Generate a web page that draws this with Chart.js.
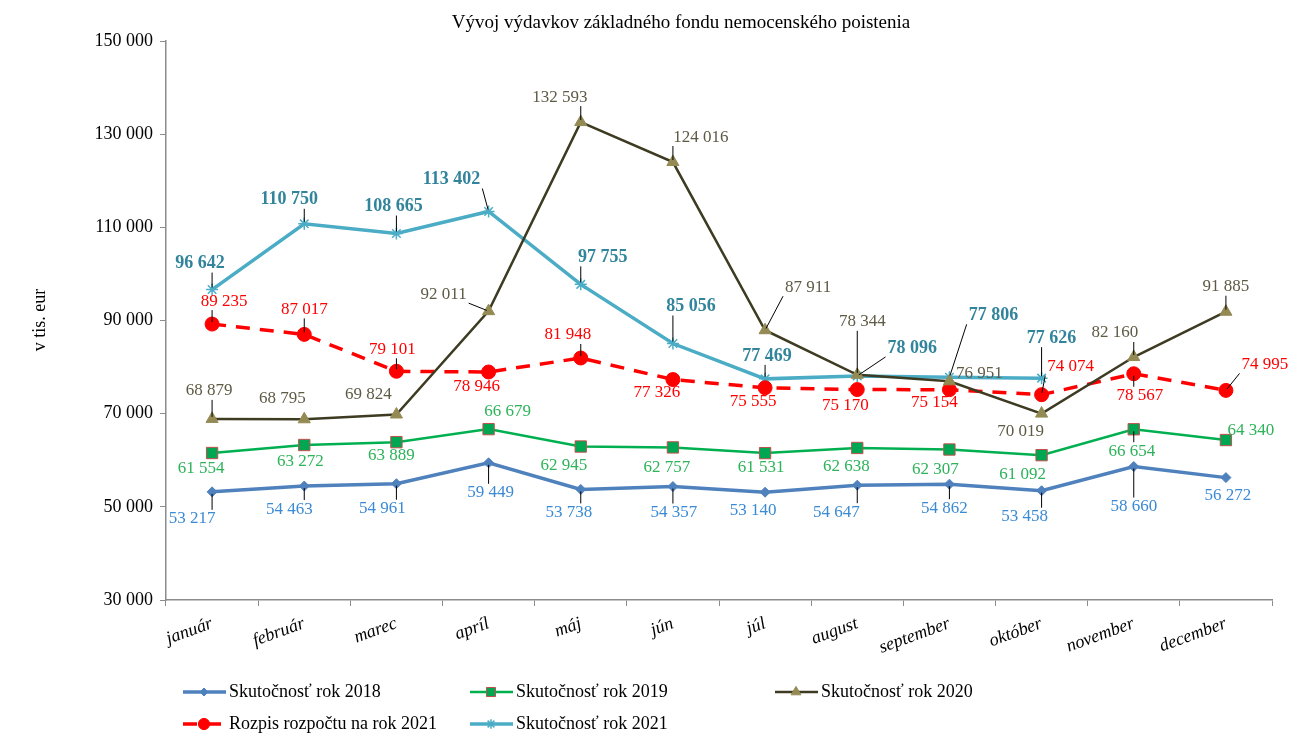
<!DOCTYPE html>
<html>
<head>
<meta charset="utf-8">
<script src="https://cdn.jsdelivr.net/npm/chart.js@4.4.0/dist/chart.umd.min.js"></script>
<style>
  html, body { margin: 0; padding: 0; background: #fff; }
</style>
</head>
<body>
<canvas id="chart" width="1289" height="735"></canvas>
<script>
const months = ['január', 'február', 'marec', 'apríl', 'máj', 'jún', 'júl', 'august', 'september', 'október', 'november', 'december'];
const yTicks = [30000, 50000, 70000, 90000, 110000, 130000, 150000];

const actual2018 = [53217, 54463, 54961, 59449, 53738, 54357, 53140, 54647, 54862, 53458, 58660, 56272];
const actual2019 = [61554, 63272, 63889, 66679, 62945, 62757, 61531, 62638, 62307, 61092, 66654, 64340];
const actual2020 = [68879, 68795, 69824, 92011, 132593, 124016, 87911, 78344, 76951, 70019, 82160, 91885];
const budget2021 = [89235, 87017, 79101, 78946, 81948, 77326, 75555, 75170, 75154, 74074, 78567, 74995];
const actual2021 = [96642, 110750, 108665, 113402, 97755, 85056, 77469, 78096, 77806, 77626, null, null];

// label placement relative to each point (px)
const off2018 = [[-20,27],[-15,23],[-14,25],[2,30],[-12,23],[1,26],[-12,18],[-21,27],[-5,24],[-17,26],[0,40],[2,18]];
const off2019 = [[-11,16],[-4,17],[-5,13],[19,-18],[-17,19],[-6,20],[-4,14],[-11,19],[-14,20],[-19,19],[-2,22],[25,-10]];
const off2020 = [[-3,-28],[-22,-21],[-28,-20],[-45,-17],[-21,-25],[28,-25],[43,-43],[5,-53],[30,-8],[-21,18],[-19,-24],[0,-25]];
const offBudget = [[12,-23],[0,-25],[-4,-22],[-12,15],[-13,-23],[-16,13],[-12,14],[-12,16],[-15,13],[29,-28],[6,22],[39,-26]];
const off2021 = [[-12,-26],[-15,-24],[-3,-27],[-37,-32],[22,-27],[18,-37],[2,-23],[55,-28],[44,-62],[10,-40],[0,0],[0,0]];

const fmt = v => String(v).replace(/\B(?=(\d{3})+(?!\d))/g, ' ');
const SERIF = '"Liberation Serif", "Times New Roman", serif';

const labelStyles = [
  { color: '#3a8ad4', font: '17px ' + SERIF, offsets: off2018 },
  { color: '#2db35a', font: '17px ' + SERIF, offsets: off2019 },
  { color: '#5e5a44', font: '17px ' + SERIF, offsets: off2020 },
  { color: '#ff0000', font: '17px ' + SERIF, offsets: offBudget },
  { color: '#31849b', font: 'bold 18px ' + SERIF, offsets: off2021 }
];

const extras = {
  id: 'extras',
  afterDraw(chart) {
    const ctx = chart.ctx;
    // data labels with leader lines
    chart.data.datasets.forEach((ds, di) => {
      const meta = chart.getDatasetMeta(di);
      const st = labelStyles[di];
      ctx.save();
      ctx.font = st.font;
      ctx.textAlign = 'center';
      ctx.textBaseline = 'middle';
      meta.data.forEach((pt, i) => {
        const v = ds.data[i];
        if (v == null) return;
        const [dx, dy] = st.offsets[i];
        const lx = pt.x + dx, ly = pt.y + dy;
        const text = fmt(v);
        const hw = ctx.measureText(text).width / 2 + 2, hh = 9;
        const cx = Math.max(lx - hw, Math.min(pt.x, lx + hw));
        const cy = Math.max(ly - hh, Math.min(pt.y, ly + hh));
        const d = Math.hypot(pt.x - cx, pt.y - cy);
        if (d > 12) {
          ctx.strokeStyle = '#000';
          ctx.lineWidth = 1;
          ctx.beginPath();
          ctx.moveTo(cx, cy);
          ctx.lineTo(pt.x + (cx - pt.x) * 2 / d, pt.y + (cy - pt.y) * 2 / d);
          ctx.stroke();
        }
        ctx.fillStyle = st.color;
        ctx.fillText(text, lx, ly);
      });
      ctx.restore();
    });

    // title
    ctx.save();
    ctx.fillStyle = '#000';
    ctx.font = '19px ' + SERIF;
    ctx.textAlign = 'center';
    ctx.textBaseline = 'middle';
    ctx.fillText('Vývoj výdavkov základného fondu nemocenského poistenia', 681, 23);

    // y title
    ctx.save();
    ctx.translate(40, 320);
    ctx.rotate(-Math.PI / 2);
    ctx.font = '18px ' + SERIF;
    ctx.fillText('v tis. eur', 0, 0);
    ctx.restore();

    // legend
    const slots = [[183, 692], [470, 692], [775, 692], [183, 724], [470, 724]];
    chart.data.datasets.forEach((ds, di) => {
      const [x, y] = slots[di];
      ctx.save();
      ctx.strokeStyle = ds.borderColor;
      ctx.lineWidth = ds.borderWidth;
      ctx.setLineDash(ds.borderDash || []);
      ctx.beginPath();
      ctx.moveTo(x, y);
      ctx.lineTo(x + 43, y);
      ctx.stroke();
      ctx.setLineDash([]);
      ctx.fillStyle = ds.pointBackgroundColor;
      ctx.strokeStyle = ds.pointBorderColor;
      ctx.lineWidth = ds.pointBorderWidth;
      Chart.helpers.drawPoint(ctx, { pointStyle: ds.pointStyle, radius: ds.pointRadius * 0.8, borderWidth: ds.pointBorderWidth, rotation: 0 }, x + 21, y);
      ctx.fillStyle = '#000';
      ctx.font = '18px ' + SERIF;
      ctx.textAlign = 'left';
      ctx.textBaseline = 'middle';
      ctx.fillText(ds.label, x + 46, y);
      ctx.restore();
    });
    ctx.restore();
  }
};

new Chart(document.getElementById('chart'), {
  type: 'line',
  data: {
    labels: months,
    datasets: [
      {
        label: 'Skutočnosť rok 2018', data: actual2018,
        borderColor: '#4f81bd', borderWidth: 3.5,
        pointStyle: 'rectRot', pointRadius: 5, pointBackgroundColor: '#4f81bd', pointBorderColor: '#4f81bd', pointBorderWidth: 1
      },
      {
        label: 'Skutočnosť rok 2019', data: actual2019,
        borderColor: '#00b050', borderWidth: 2.5,
        pointStyle: 'rect', pointRadius: 8, pointBackgroundColor: '#00a651', pointBorderColor: '#c0504d', pointBorderWidth: 1
      },
      {
        label: 'Skutočnosť rok 2020', data: actual2020,
        borderColor: '#3d3b21', borderWidth: 2.5,
        pointStyle: 'triangle', pointRadius: 7, pointBackgroundColor: '#948a54', pointBorderColor: '#948a54', pointBorderWidth: 1
      },
      {
        label: 'Rozpis rozpočtu na rok 2021', data: budget2021,
        borderColor: '#ff0000', borderWidth: 3.5, borderDash: [14, 10],
        pointStyle: 'circle', pointRadius: 7, pointBackgroundColor: '#ff0000', pointBorderColor: '#ff0000', pointBorderWidth: 1
      },
      {
        label: 'Skutočnosť rok 2021', data: actual2021,
        borderColor: '#4bacc6', borderWidth: 3.5,
        pointStyle: 'star', pointRadius: 6, pointBackgroundColor: '#4bacc6', pointBorderColor: '#4bacc6', pointBorderWidth: 1.5
      }
    ]
  },
  options: {
    responsive: false,
    animation: false,
    layout: { padding: { top: 41, right: 17, left: 0, bottom: 0 } },
    plugins: { legend: { display: false }, tooltip: { enabled: false } },
    elements: { line: { tension: 0 } },
    scales: {
      x: {
        offset: true,
        grid: { offset: true, drawOnChartArea: false, tickLength: 6, color: '#8c8c8c' },
        border: { color: '#8c8c8c', width: 1.5 },
        ticks: {
          autoSkip: false, minRotation: 20, maxRotation: 20, padding: 7,
          color: '#000', font: { family: SERIF, size: 18, style: 'italic' }
        },
        afterFit: s => { s.height = 135; }
      },
      y: {
        min: 30000, max: 150000,
        afterBuildTicks: s => { s.ticks = yTicks.map(v => ({ value: v })); },
        grid: { drawOnChartArea: false, tickLength: 6, color: '#8c8c8c' },
        border: { color: '#8c8c8c', width: 1.5 },
        ticks: {
          padding: 7, color: '#000', font: { family: SERIF, size: 18 },
          callback: v => fmt(v)
        },
        afterFit: s => { s.width = 166; }
      }
    }
  },
  plugins: [extras]
});
</script>
</body>
</html>
